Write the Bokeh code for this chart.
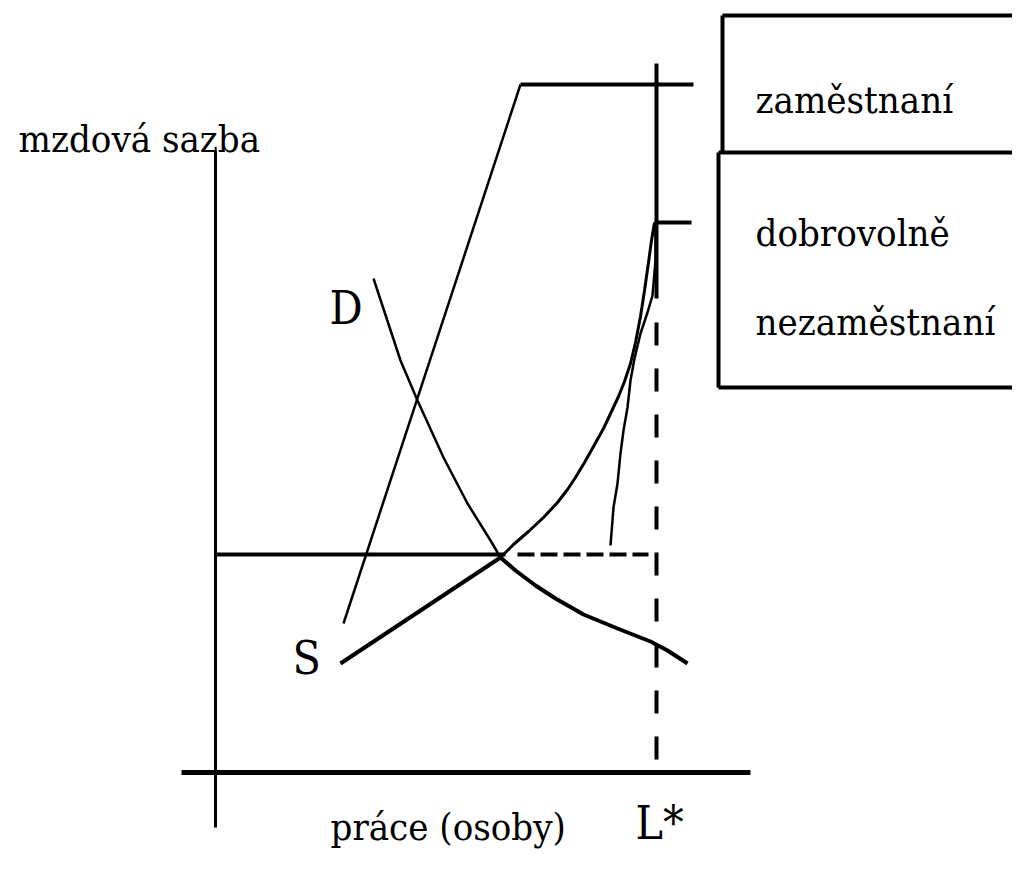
from bokeh.plotting import figure
from bokeh.models import Range1d
from bokeh.core.properties import value
from bokeh.embed import file_html
from bokeh.resources import INLINE

# ---- data (diagram coordinates, y grows downward like the page) ----
# demand curve D: upper thin part and lower thick part
D_upper_x = [373, 400, 417, 443, 467, 490, 500]
D_upper_y = [278, 360, 400, 457, 503, 540, 557]
D_lower_x = [500, 515, 535, 555, 583, 617, 650, 667, 687]
D_lower_y = [557, 570, 585, 598, 614, 628, 641, 650, 663]

# supply of labour S (thick lower part, convex upper part to the tick)
S_lower_x = [340, 500]
S_lower_y = [663, 557]
S_upper_x = [500, 513, 528, 543, 557, 567, 575, 584, 593, 603, 611, 618, 624,
             630, 635, 640, 644, 648, 651, 654]
S_upper_y = [557, 544, 531, 517, 502, 489, 477, 462, 446, 428, 411, 396, 381,
             363, 342, 316, 290, 262, 240, 222]

# steep straight line (accepting jobs) to the top horizontal
AJ_x = [343, 520, 693]
AJ_y = [623, 84, 84]

# line to the "dobrovolně nezaměstnaní" tick
VU_x = [610, 613, 617, 620, 623, 627, 630, 634, 640, 647, 652, 655, 655]
VU_y = [545, 507, 483, 453, 430, 407, 380, 358, 333, 312, 295, 260, 222]

# labour force L*
Lstar_x = 656
Lstar_solid_y = [63, 298]
Lstar_dash_y = [322, 759]
tick_x = [654, 691]
tick_y = [222, 222]

# equilibrium wage
wage_y = 554
wage_solid_x = [215, 505]
wage_dash_x = [517, 648]

# axes
yaxis_x = [215, 215]
yaxis_y = [150, 827]
xaxis_x = [181, 750]
xaxis_y = [772, 772]

# legend boxes
box_top_x = [722, 1028]
box_top_y = 15
box_top_left_y = [15, 152]
box_mid_y = 152
box_mid_x = [718, 1028]
box_low_left_y = [152, 387]
box_bottom_y = 387

labels = ["mzdová sazba", "zaměstnaní", "dobrovolně", "nezaměstnaní",
          "práce (osoby)"]
labels_x = [18, 755, 755, 755, 330]
labels_y = [138, 99, 232, 321, 826]
curve_labels = ["D", "S", "L*"]
curve_labels_x = [329, 292, 635]
curve_labels_y = [307, 657, 822]

FONT = value("'DejaVu Serif Condensed', 'Liberation Serif', serif")

p = figure(width=1012, height=853, output_backend="svg", toolbar_location=None,
           x_range=Range1d(0, 1012), y_range=Range1d(853, 0),
           x_axis_location=None, y_axis_location=None, min_border=0,
           background_fill_color="white", border_fill_color="white")
p.outline_line_color = None
p.xgrid.visible = False
p.ygrid.visible = False

K = "black"
# axes
p.line(yaxis_x, yaxis_y, line_color=K, line_width=3)
p.line(xaxis_x, xaxis_y, line_color=K, line_width=5)

# boxes
p.line(box_top_x, [box_top_y] * 2, line_color=K, line_width=4)
p.line([box_top_x[0]] * 2, box_top_left_y, line_color=K, line_width=4)
p.line(box_mid_x, [box_mid_y] * 2, line_color=K, line_width=4)
p.line([box_mid_x[0]] * 2, box_low_left_y, line_color=K, line_width=4)
p.line(box_mid_x, [box_bottom_y] * 2, line_color=K, line_width=4)

# curves
p.line(D_upper_x, D_upper_y, line_color=K, line_width=2.5)
p.line(D_lower_x, D_lower_y, line_color=K, line_width=4)
p.line(S_lower_x, S_lower_y, line_color=K, line_width=4)
p.line(S_upper_x, S_upper_y, line_color=K, line_width=3)
p.line(AJ_x[:2], AJ_y[:2], line_color=K, line_width=2.5)
p.line(AJ_x[1:], AJ_y[1:], line_color=K, line_width=4)
p.line(VU_x, VU_y, line_color=K, line_width=2.5)

# L* vertical
p.line([Lstar_x] * 2, Lstar_solid_y, line_color=K, line_width=4)
p.line([Lstar_x] * 2, Lstar_dash_y, line_color=K, line_width=4, line_dash="23 23")
p.line(tick_x, tick_y, line_color=K, line_width=4)

# wage line
p.line(wage_solid_x, [wage_y] * 2, line_color=K, line_width=4)
p.line(wage_dash_x, [wage_y] * 2, line_color=K, line_width=4, line_dash="17 6")

# texts
p.text(x=labels_x, y=labels_y, text=labels, text_font=FONT, text_font_size="38px",
       text_color=K, text_align="left", text_baseline="alphabetic")
p.text(x=curve_labels_x, y=curve_labels_y, text=curve_labels, text_font=FONT,
       text_font_size="46px", text_color=K, text_align="left", text_baseline="alphabetic")

open("out.html", "w").write(file_html(p, INLINE))
